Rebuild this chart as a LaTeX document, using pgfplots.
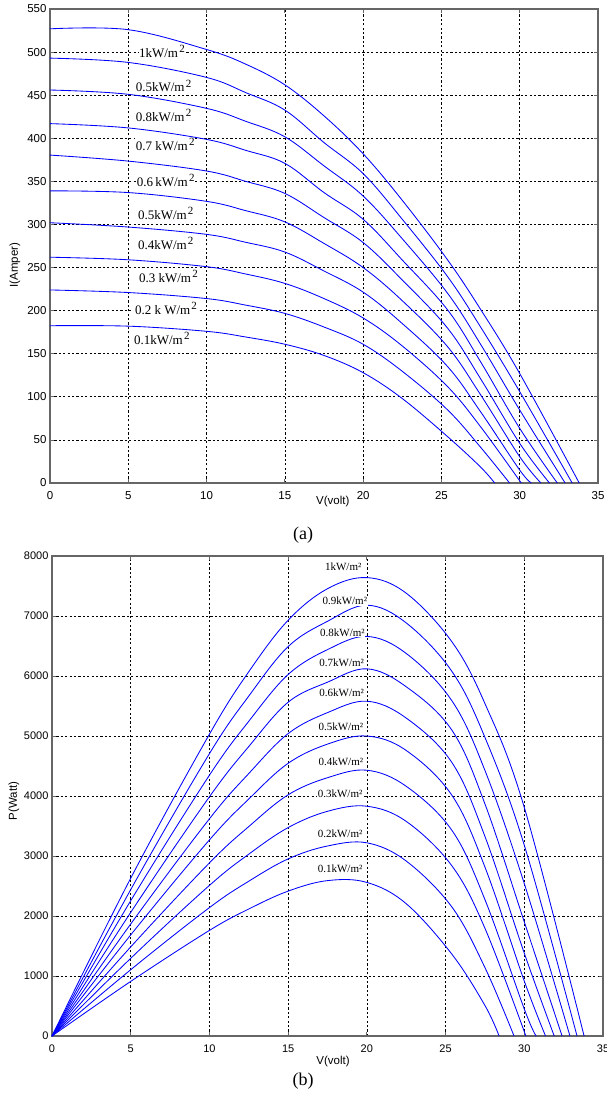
\documentclass[border=0pt]{standalone}
\usepackage{fontspec}
\setmainfont{Liberation Serif}
\newfontfamily\arial{Liberation Sans}
\usepackage{pgfplots}
\pgfplotsset{compat=1.18}
\pgfplotsset{
  matlab/.style={
    scale only axis,
    xmin=0, xmax=35, xtick={0,5,...,35},
    axis line style={draw=black!60, line width=1.1pt},
    grid=major,
    major grid style={black, dash pattern=on 2.2pt off 2.2pt, line width=0.65pt},
    tick align=inside, major tick length=4pt,
    tick style={black!60, line width=0.8pt},
    tick label style={font=\arial\fontsize{11.5}{12}\selectfont},
    /pgf/number format/assume math mode=true,
    /pgf/number format/1000 sep={},
    xticklabel style={yshift=-5pt},
    label style={font=\arial\fontsize{11.5}{12}\selectfont},
    no markers,
    every axis plot post/.append style={blue, solid, line width=0.85pt, smooth, tension=0.6},
  },
}
\tikzset{
  lbl/.style={fill=white, inner sep=0.6pt, anchor=base west, font=\fontsize{13}{14}\selectfont},
  lblb/.style={fill=white, inner sep=0.6pt, anchor=center, font=\fontsize{11}{12}\selectfont},
}
\newcommand{\sq}{\hspace{1.2pt}\raisebox{4.5pt}{\fontsize{11}{11}\selectfont 2}}
\begin{document}
\begin{tikzpicture}
\useasboundingbox (0pt,0pt) rectangle (606pt,-1099pt);
% ---------------- (a) I-V ----------------
\begin{axis}[matlab,
  at={(50pt,-483pt)}, anchor=south west,
  width=548pt, height=474pt,
  ymin=0, ymax=550, ytick={0,50,...,550},
  xlabel={V(volt)}, ylabel={I(Amper)},
  xlabel style={at={(axis description cs:0.516,-0.040)}, anchor=center},
  ylabel style={at={(axis description cs:-0.064,0.46)}, anchor=center},
]
\addplot coordinates {(0,527) (5,526) (10,503) (12.5,486) (15,462) (17.5,426) (20,382) (22.5,328) (25.4,258.7) (27.5,201.5) (30,127) (33.8,0)};
\addplot coordinates {(0,493) (5,488) (10,470.6) (12.5,453) (15,432.7) (17.5,395) (20,359) (22.5,306) (25.4,239.3) (27.5,181) (30,106) (33.35,0)};
\addplot coordinates {(0,456) (5,451) (10,434.7) (12.5,419.7) (15,401.7) (17.5,368) (20,333) (22.5,283.4) (25.4,220) (27.5,161) (30,84.7) (32.9,0)};
\addplot coordinates {(0,417) (5,412) (10,398.7) (12.5,386) (15,370.9) (17.5,337) (20,306) (22.5,258.7) (25.4,200.7) (27.5,140.7) (30,63.4) (32.4,0)};
\addplot coordinates {(0,380.5) (5,373.5) (10,362) (12.5,350) (15,336) (17.5,308) (20,279) (22.5,235.5) (25.4,179.5) (27.5,121) (30,46) (31.9,0)};
\addplot coordinates {(0,339) (5,337) (10,326.8) (12.5,316) (15,303) (17.5,278) (20,250) (22.5,211.5) (25.4,158) (27.5,102.4) (30,30.5) (31.35,0)};
\addplot coordinates {(0,302) (5,297) (10,288.5) (12.5,279.3) (15,268) (17.5,246) (20,221.5) (22.5,185) (25.4,135) (27.5,82.7) (30,15) (30.75,0)};
\addplot coordinates {(0,262) (5,259) (10,251) (12.5,242.5) (15,231.6) (17.5,214) (20,191.5) (22.5,159) (25.4,111.7) (27.5,65.3) (30.1,0)};
\addplot coordinates {(0,224) (5,221) (10,214) (12.5,206.4) (15,196.8) (17.5,181) (20,161) (22.5,129.6) (25.4,84.7) (27.5,41.5) (29.35,0)};
\addplot coordinates {(0,182.5) (5,182) (10,176) (12.5,169.4) (15,161) (17.5,148) (20,128) (22.5,98) (25.4,53.7) (27.5,18.5) (28.4,0)};
\node[lbl] at (axis cs:5.64,494) {1kW/m\sq};
\node[lbl] at (axis cs:5.43,454) {0.5kW/m\sq};
\node[lbl] at (axis cs:5.43,420) {0.8kW/m\sq};
\node[lbl] at (axis cs:5.43,386) {0.7 kW/m\sq};
\node[lbl] at (axis cs:5.5,344.6) {0.6\,kW/m\sq};
\node[lbl] at (axis cs:5.57,306) {0.5kW/m\sq};
\node[lbl] at (axis cs:5.57,271) {0.4kW/m\sq};
\node[lbl] at (axis cs:5.64,233) {0.3 kW/m\sq};
\node[lbl] at (axis cs:5.38,195.7) {0.2 k W/m\sq};
\node[lbl] at (axis cs:5.32,161) {0.1kW/m\sq};
\end{axis}
\node[font=\fontsize{18}{20}\selectfont] at (303pt,-535pt) {(a)};
% ---------------- (b) P-V ----------------
\begin{axis}[matlab,
  at={(52pt,-1036pt)}, anchor=south west,
  width=551pt, height=480pt,
  ymin=0, ymax=8000, ytick={0,1000,...,8000},
  xlabel={V(volt)}, ylabel={P(Watt)},
  xlabel style={at={(axis description cs:0.51,-0.054)}, anchor=center},
  ylabel style={at={(axis description cs:-0.069,0.49)}, anchor=center},
  tick label style={font=\arial\fontsize{11}{12}\selectfont},
]
\addplot coordinates {(0,0) (5,2630) (10,5030) (12.5,6072) (15,6930) (17.5,7455) (20,7640) (22.5,7380) (25.4,6571) (27.5,5541) (30,3810) (33.8,0)};
\addplot coordinates {(0,0) (5,2440) (10,4706) (12.5,5666) (15,6490) (17.5,6912) (20,7180) (22.5,6885) (25.4,6078) (27.5,4977) (30,3180) (33.35,0)};
\addplot coordinates {(0,0) (5,2255) (10,4347) (12.5,5246) (15,6025) (17.5,6440) (20,6660) (22.5,6376) (25.4,5588) (27.5,4427) (30,2541) (32.9,0)};
\addplot coordinates {(0,0) (5,2060) (10,3987) (12.5,4825) (15,5563) (17.5,5897) (20,6120) (22.5,5821) (25.4,5098) (27.5,3869) (30,1902) (32.4,0)};
\addplot coordinates {(0,0) (5,1867) (10,3620) (12.5,4375) (15,5040) (17.5,5390) (20,5580) (22.5,5299) (25.4,4559) (27.5,3327) (30,1380) (31.9,0)};
\addplot coordinates {(0,0) (5,1685) (10,3268) (12.5,3950) (15,4545) (17.5,4865) (20,5000) (22.5,4759) (25.4,4013) (27.5,2816) (30,915) (31.35,0)};
\addplot coordinates {(0,0) (5,1485) (10,2885) (12.5,3491) (15,4020) (17.5,4305) (20,4430) (22.5,4162) (25.4,3429) (27.5,2274) (30,450) (30.75,0)};
\addplot coordinates {(0,0) (5,1295) (10,2510) (12.5,3031) (15,3474) (17.5,3745) (20,3830) (22.5,3577) (25.4,2837) (27.5,1796) (30.1,0)};
\addplot coordinates {(0,0) (5,1105) (10,2140) (12.5,2580) (15,2952) (17.5,3167) (20,3220) (22.5,2916) (25.4,2151) (27.5,1141) (29.35,0)};
\addplot coordinates {(0,0) (5,910) (10,1760) (12.5,2117) (15,2415) (17.5,2590) (20,2560) (22.5,2205) (25.4,1364) (27.5,509) (28.4,0)};
\node[lblb] at (axis cs:18.5,7820) {1kW/m²};
\node[lblb] at (axis cs:18.6,7250) {0.9kW/m²};
\node[lblb] at (axis cs:18.45,6720) {0.8kW/m²};
\node[lblb] at (axis cs:18.4,6220) {0.7kW/m²};
\node[lblb] at (axis cs:18.4,5720) {0.6kW/m²};
\node[lblb] at (axis cs:18.35,5155) {0.5kW/m²};
\node[lblb] at (axis cs:18.35,4575) {0.4kW/m²};
\node[lblb] at (axis cs:18.3,4040) {0.3kW/m²};
\node[lblb] at (axis cs:18.3,3370) {0.2kW/m²};
\node[lblb] at (axis cs:18.3,2790) {0.1kW/m²};
\end{axis}
\node[font=\fontsize{18}{20}\selectfont] at (303pt,-1081pt) {(b)};
\end{tikzpicture}
\end{document}
